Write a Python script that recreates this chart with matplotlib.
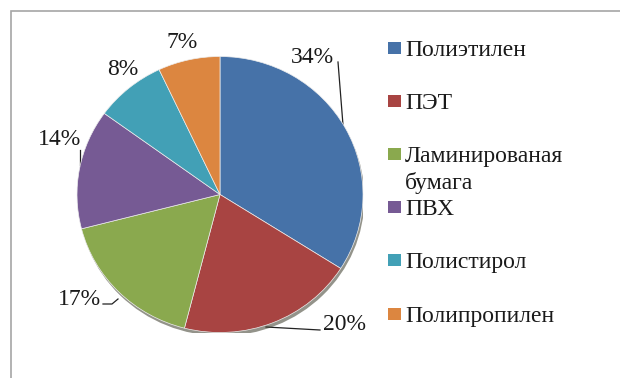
import numpy as np
import matplotlib.pyplot as plt
from matplotlib.patches import Rectangle, Ellipse

# Доли видов пластика в отходах, %
materials = ['Полиэтилен', 'ПЭТ', 'Ламинированая\nбумага', 'ПВХ', 'Полистирол', 'Полипропилен']
shares = [34, 20, 17, 14, 8, 7]
colors = ['#4672a8', '#a84442', '#8aa94e', '#765a94', '#42a0b6', '#dc8640']

# положения подписей процентов (центр по x, базовая линия по y), пиксели
label_xy = [(312.5, 315), (344, 48), (79, 73), (60, 233), (123, 303), (182, 330)]

fig = plt.figure(figsize=(6.2, 3.78), dpi=100)
ax = fig.add_axes([0, 0, 1, 1])
ax.set_xlim(0, 620)
ax.set_ylim(0, 378)
ax.axis('off')

# рамка области диаграммы
ax.add_patch(Rectangle((11, -5), 700, 372, fill=False, ec='#a6a6a6', lw=1.2))

# круг слегка сплюснут по вертикали
cx, cy, rx, ry = 220, 183.5, 143, 138
pax = fig.add_axes([(cx - rx) / 620, (cy - ry) / 378, 2 * rx / 620, 2 * ry / 378])
pax.add_patch(Ellipse((0.01, -0.025), 2, 2, color='#3b3b2a', alpha=0.55, lw=0))
wedges, texts = pax.pie(shares, colors=colors, startangle=90, counterclock=False,
                        radius=1, frame=True, wedgeprops=dict(lw=0.5, ec='#eeeeee'))
pax.set_xlim(-1, 1)
pax.set_ylim(-1, 1)
pax.set_aspect('auto')
pax.axis('off')

for v, (x, y) in zip(shares, label_xy):
    ax.text(x, y, f'{v}%', ha='center', va='baseline', fontsize=17,
            family='Liberation Serif', color='#1a1a1a')

# выноски
lc = '#222222'
ax.plot([338, 343], [316, 253], color=lc, lw=0.9)
ax.plot([266, 320], [51, 48], color=lc, lw=0.9)
ax.plot([103, 112, 118], [74, 74, 79], color=lc, lw=0.9)
ax.plot([80, 80], [228, 213], color=lc, lw=0.9)

# легенда (перенос строки рисуем вручную, шаг 27 px)
leg_base = [322, 269, 216, 163, 110, 56]
for name, c, y in zip(materials, colors, leg_base):
    ax.add_patch(Rectangle((388, y + 2), 12.5, 12.5, color=c, lw=0))
    for i, line in enumerate(name.split('\n')):
        ax.text(405, y - 27 * i, line, ha='left', va='baseline', fontsize=17,
                family='Liberation Serif', color='#1a1a1a')

fig.savefig('out.png', dpi=100)
